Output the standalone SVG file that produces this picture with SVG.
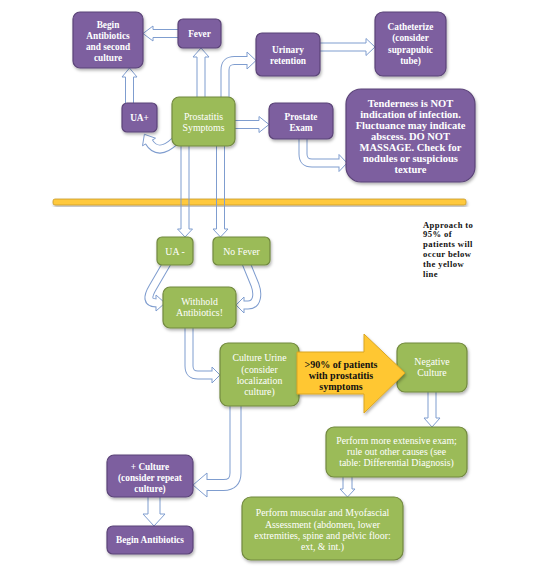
<svg xmlns="http://www.w3.org/2000/svg" width="558" height="570" viewBox="0 0 558 570">
<defs>
<filter id="sh" x="-20%" y="-20%" width="140%" height="150%">
<feDropShadow dx="1" dy="2" stdDeviation="1.5" flood-color="#000" flood-opacity="0.3"/>
</filter>
<style>
.p{fill:#7D5F9F;stroke:#5B4478;stroke-width:1.2;filter:url(#sh)}
.g{fill:#9BBB59;stroke:#72893F;stroke-width:1.2;filter:url(#sh)}
.tp{font-family:"Liberation Serif",serif;font-size:9.3px;font-weight:bold;fill:#fff;text-anchor:middle}
.tg{font-family:"Liberation Serif",serif;font-size:9.8px;fill:#fff;text-anchor:middle}
.blk{fill:#fff;stroke:#7F9DCF;stroke-width:1}
.hol{fill:none;stroke:#7F9DCF;stroke-width:1}
.tO{fill:none;stroke:#7F9DCF;stroke-width:9}
.tI{fill:none;stroke:#fff;stroke-width:7}
.tO2{fill:none;stroke:#7F9DCF;stroke-width:12}
.tI2{fill:none;stroke:#fff;stroke-width:10}
.note{font-family:"Liberation Serif",serif;font-size:8.6px;font-weight:bold;fill:#111;letter-spacing:0.4px}
</style>
</defs>
<rect width="558" height="570" fill="#fff"/>

<g id="yellow-line">
<rect x="53" y="199" width="413" height="6" rx="2" fill="#FFC93C" stroke="#C79B2A" stroke-width="0.8" filter="url(#sh)"/>
</g>

<g id="connectors">
<path class="blk" d="M181,29.5 L153,29.5 L153,26 L143,33.5 L153,41 L153,37.5 L181,37.5 Z"/>
<path class="blk" d="M197,99 L197,57 L193,57 L201,48 L209,57 L205,57 L205,99 Z"/>
<path class="blk" d="M125.5,105 L125.5,77 L122,77 L129.5,68 L137,77 L133.5,77 L133.5,105 Z"/>
<g>
<path class="tO" d="M175,141 Q158,157 149,142"/>
<path class="blk" d="M155.5,138.2 L144.4,134.3 L142.5,145.8 Z"/>
<path class="tI" d="M175,141 Q158,157 148.2,140.7"/>
</g>
<g>
<path class="tO" d="M225,99 L225,70 Q225,60.5 234.5,60.5 L247,60.5"/>
<path class="blk" d="M247,52 L256,60.5 L247,69 Z"/>
<path class="tI" d="M225,99 L225,70 Q225,60.5 234.5,60.5 L248.5,60.5"/>
</g>
<path class="blk" d="M233,120.5 L259,120.5 L259,116.5 L269,124.5 L259,132.5 L259,128.5 L233,128.5 Z"/>
<path class="blk" d="M318,43 L366,43 L366,38.5 L375,47 L366,55.5 L366,51 L318,51 Z"/>
<g>
<path class="tO" d="M303,137 L303,154 Q303,163 312,163 L339,163"/>
<path class="blk" d="M339,154.5 L347,163 L339,171.5 Z"/>
<path class="tI" d="M303,137 L303,154 Q303,163 312,163 L340.5,163"/>
</g>
<path class="hol" d="M181,144 L181,229 L177.5,229 L185,237 L192.5,229 L189,229 L189,144 Z"/>
<path class="hol" d="M216.5,144 L216.5,229 L213,229 L220.5,237 L228,229 L224.5,229 L224.5,144 Z"/>
<g>
<path class="tO" d="M167,263 L153,287 C147,297 147,303 156,303"/>
<path class="blk" d="M156,295 L165,303 L156,311 Z"/>
<path class="tI" d="M167,263 L153,287 C147,297 147,303 157.5,303"/>
</g>
<g>
<path class="tO" d="M246,263 L255,285 C258,293 258,305 248,305 L244,305"/>
<path class="blk" d="M244,297 L236,305 L244,313 Z"/>
<path class="tI" d="M246,263 L255,285 C258,293 258,305 248,305 L242.5,305"/>
</g>
<g>
<path class="tO" d="M189,326 L189,366 Q189,375 198,375 L212,375"/>
<path class="blk" d="M212,367 L220,375 L212,383 Z"/>
<path class="tI" d="M189,326 L189,366 Q189,375 198,375 L213.5,375"/>
</g>
<g>
<path class="tO2" d="M235.5,404 L235.5,473 Q235.5,485 223.5,485 L207,485"/>
<path class="blk" d="M207,473 L193,485 L207,497 Z"/>
<path class="tI2" d="M235.5,404 L235.5,473 Q235.5,485 223.5,485 L205.5,485"/>
</g>
<path class="blk" d="M148,495 L148,514 L143,514 L154,526 L165,514 L160,514 L160,495 Z"/>
<path class="blk" d="M428,390 L428,418 L424,418 L432,427 L440,418 L436,418 L436,390 Z"/>
<path class="blk" d="M343,475 L343,489 L340,489 L347.5,497 L355,489 L352,489 L352,475 Z"/>
</g>

<g id="n-begin2"><rect class="p" x="73" y="12" width="70" height="56" rx="7"/>
<text class="tp" x="108" y="27.5">Begin</text><text class="tp" x="108" y="38.5">Antibiotics</text><text class="tp" x="108" y="49.5">and second</text><text class="tp" x="108" y="60.5">culture</text></g>
<g id="n-fever"><rect class="p" x="178" y="19" width="43" height="29" rx="5"/>
<text class="tp" x="199.5" y="37">Fever</text></g>
<g id="n-urinary"><rect class="p" x="256" y="33" width="64" height="43" rx="6"/>
<text class="tp" x="288" y="52.5">Urinary</text><text class="tp" x="288" y="63.5">retention</text></g>
<g id="n-cath"><rect class="p" x="375" y="12" width="71" height="64" rx="8"/>
<text class="tp" x="410.5" y="30.3">Catheterize</text><text class="tp" x="410.5" y="41.3">(consider</text><text class="tp" x="410.5" y="53.3">suprapubic</text><text class="tp" x="410.5" y="64.3">tube)</text></g>
<g id="n-exam"><rect class="p" x="269" y="103" width="64" height="36" rx="6"/>
<text class="tp" x="301" y="120">Prostate</text><text class="tp" x="301" y="131">Exam</text></g>
<g id="n-tender"><rect class="p" x="346" y="89" width="129" height="93" rx="15"/>
<g class="tp" style="font-size:10.5px">
<text x="410.5" y="106.6">Tenderness is NOT</text>
<text x="410.5" y="117.6">indication of infection.</text>
<text x="410.5" y="128.6">Fluctuance may indicate</text>
<text x="410.5" y="139.6">abscess. DO NOT</text>
<text x="410.5" y="150.6">MASSAGE. Check for</text>
<text x="410.5" y="161.6">nodules or suspicious</text>
<text x="410.5" y="172.6">texture</text></g></g>
<g id="n-uaplus"><rect class="p" x="122" y="103" width="35" height="29" rx="5"/>
<text class="tp" x="139.5" y="121">UA+</text></g>
<g id="n-prostatitis"><rect class="g" x="172" y="97" width="63" height="49" rx="7"/>
<text class="tg" x="203.5" y="119.5">Prostatitis</text><text class="tg" x="203.5" y="130.5">Symptoms</text></g>
<g id="n-uaminus"><rect class="g" x="157" y="237" width="36" height="28" rx="5"/>
<text class="tg" x="175" y="255">UA -</text></g>
<g id="n-nofever"><rect class="g" x="213" y="237" width="57" height="28" rx="5"/>
<text class="tg" x="241.5" y="255">No Fever</text></g>
<g id="n-withhold"><rect class="g" x="163" y="287" width="73" height="41" rx="7"/>
<text class="tg" x="199.5" y="305.3">Withhold</text><text class="tg" x="199.5" y="316.3">Antibiotics!</text></g>
<g id="n-cultureurine"><rect class="g" x="220" y="343" width="79" height="63" rx="8"/>
<text class="tg" x="259.5" y="361.3">Culture Urine</text><text class="tg" x="259.5" y="372.5">(consider</text><text class="tg" x="259.5" y="384">localization</text><text class="tg" x="259.5" y="395">culture)</text></g>
<g id="n-negative"><rect class="g" x="397" y="343" width="70" height="49" rx="8"/>
<text class="tg" x="432" y="365.3">Negative</text><text class="tg" x="432" y="376.3">Culture</text></g>
<g id="n-extensive"><rect class="g" x="326" y="427" width="141" height="50" rx="8"/>
<text class="tg" x="396.5" y="444.3">Perform more extensive exam;</text><text class="tg" x="396.5" y="455.3">rule out other causes (see</text><text class="tg" x="396.5" y="466.3">table: Differential Diagnosis)</text></g>
<g id="n-muscular"><rect class="g" x="242" y="497" width="161" height="63" rx="9"/>
<text class="tg" x="322.5" y="516.3">Perform muscular and Myofascial</text><text class="tg" x="322.5" y="527.5">Assessment (abdomen, lower</text><text class="tg" x="322.5" y="538.5">extremities, spine and pelvic floor:</text><text class="tg" x="322.5" y="550">ext, &amp; int.)</text></g>
<g id="n-pluscult"><rect class="p" x="107" y="455" width="86" height="42" rx="7"/>
<text class="tp" x="150" y="470.3">+ Culture</text><text class="tp" x="150" y="481.3">(consider repeat</text><text class="tp" x="150" y="492.3">culture)</text></g>
<g id="n-beginab"><rect class="p" x="107" y="526" width="86" height="28" rx="6"/>
<text class="tp" x="150" y="543.3">Begin Antibiotics</text></g>

<g id="big-arrow">
<path d="M297,352 L364,352 L364,334 L405,373 L364,413 L364,394 L297,394 Z" fill="#FFC733" stroke="#D9A520" stroke-width="1" filter="url(#sh)"/>
<g style="font-family:'Liberation Serif',serif;font-size:10px;font-weight:bold;fill:#111;text-anchor:middle">
<text x="341" y="367.5">&gt;90% of patients</text>
<text x="341" y="378.5">with prostatitis</text>
<text x="341" y="389.5">symptoms</text></g>
</g>

<g id="note">
<text class="note" x="423" y="227.5">Approach to</text>
<text class="note" x="423" y="237.3">95% of</text>
<text class="note" x="423" y="247.1">patients will</text>
<text class="note" x="423" y="256.9">occur below</text>
<text class="note" x="423" y="266.7">the yellow</text>
<text class="note" x="423" y="276.5">line</text>
</g>
</svg>
